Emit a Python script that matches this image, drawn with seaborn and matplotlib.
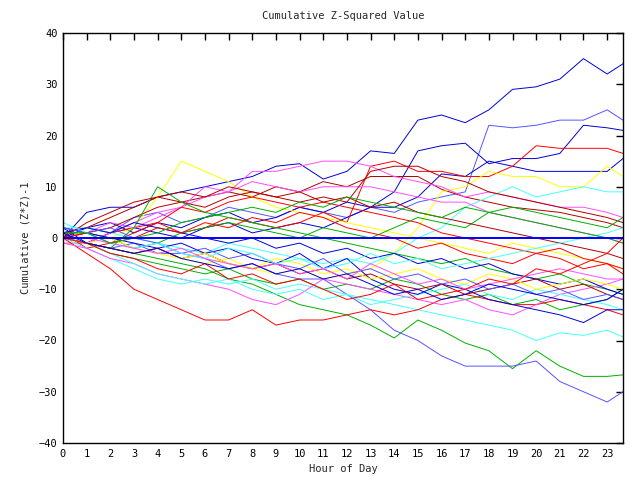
import matplotlib
matplotlib.use("Agg")
import matplotlib.pyplot as plt
import seaborn as sns
import pandas as pd

hours = [0, 1, 2, 3, 4, 5, 6, 7, 8, 9, 10, 11, 12, 13, 14, 15, 16, 17, 18, 19, 20, 21, 22, 23, 23.67]

series_names = [f"s{i:02d}" for i in range(1, 36)]

s01 = [0, 5, 6, 6, 8, 9, 10, 11, 12, 14, 14.5, 11.5, 13, 17, 16.5, 23, 24, 22.5, 25, 29, 29.5, 31, 35, 32, 34]
s02 = [1, 2, 1, 4, 5, 3, 4, 6, 5, 4, 6, 5, 4, 6, 5, 7, 8, 9, 22, 21.5, 22, 23, 23, 25, 23]
s03 = [0, 2, 3, 1, 3, 2, 4, 5, 3, 4, 6, 5, 7, 6, 9, 17, 18, 18.5, 14.5, 15.5, 15.5, 16.5, 22, 21.5, 21]
s04 = [2, -1, 1, 2, 1, 0, 2, 3, 1, 2, 3, 2, 4, 6, 6, 8, 12.5, 12, 15, 14, 13, 13, 13, 13, 15.5]
s05 = [0, -1, 1, 2, 3, 1, 2, 4, 3, 2, 3, 5, 3, 14, 15, 13, 13, 12, 12, 14, 18, 17.5, 17.5, 17.5, 16.5]
s06 = [1, 2, 4, 6, 8, 7, 8, 9, 8, 10, 9, 11, 10, 12, 12, 12, 9.5, 8, 7, 6, 5.5, 5, 4, 3, 2]
s07 = [0, 1, 0, 2, 8, 15, 13, 11, 8, 6, 5, 4, 3, 2, 1, 0, -1, -2, -3, -1, -2, -3, -4, -5, -6]
s08 = [-1, -1, -2, -3, -2, -4, -5, -4, -6, -7, -6, -8, -7, -6, -3, 2, 9, 10, 13, 12, 12, 10, 10, 14, 12]
s09 = [2, 2, 1, 0, -1, -2, -3, -1, -2, -3, -4, -5, -4, -5, -3, 0, 2, 6, 8, 10, 8, 9, 10, 9, 9]
s10 = [0, 1, 3, 2, 4, 6, 10, 9, 13, 13, 14, 15, 15, 14, 12, 11, 10, 8, 9, 8, 7, 6, 6, 5, 4]
s11 = [-1, -1, 1, 3, 5, 6, 8, 9, 11, 10, 9, 10, 10, 10, 9, 8, 7, 7, 5, 4, 3, 2, 1, 0, -1]
s12 = [0, 1, 2, 4, 6, 7, 6, 8, 9, 8, 7, 8, 7, 13, 14, 14, 12, 11, 9, 8, 7, 6, 5, 4, 3]
s13 = [1, -2, -1, 1, 3, 6, 5, 7, 8, 7, 6, 7, 6, 5, 4, 3, 1, 0, -1, -2, -3, -2, -4, -5, -6]
s14 = [0, -1, -2, 2, 10, 7, 5, 4, 3, 2, 1, 0, -1, -2, -3, -4, -5, -4, -6, -7, -8, -7, -9, -10, -11]
s15 = [1, 1, 0, -2, -1, 1, 2, 3, 2, 1, 0, 2, 1, 0, 2, 4, 3, 2, 5, 6, 5, 4, 3, 2, 4]
s16 = [0, -1, -3, -4, -5, -6, -7, -6, -8, -9, -8, -10, -9, -10, -8, -9, -11, -12, -11, -13, -12, -14, -13, -12, -10]
s17 = [0, -1, -2, -3, -4, -5, -6, -8, -9, -11, -13, -14, -15, -17, -19.5, -16, -18, -20.5, -22, -25.5, -22, -25, -27, -27, -26.7]
s18 = [0, -1, -2, -1, -3, -3, -4, -6, -5, -7, -8, -8, -11, -14, -18, -20, -23, -25, -25, -25, -24, -28, -30, -32, -30]
s19 = [0, -2, -4, -6, -8, -9, -8, -9, -8, -10, -9, -10, -11, -12, -13, -14, -15, -16, -17, -18, -20, -18.5, -19, -18, -19.3]
s20 = [0, -3, -6, -10, -12, -14, -16, -16, -14, -17, -16, -16, -15, -14, -15, -14, -12, -11, -12, -13, -13, -12, -13, -14, -15]
s21 = [-1, -2, -4, -5, -7, -8, -9, -10, -12, -13, -11, -8, -9, -10, -11, -12, -13, -12, -14, -15, -13, -11, -10, -9, -8]
s22 = [0, -1, -3, -5, -7, -8, -9, -8, -10, -11, -10, -12, -11, -13, -12, -11, -10, -9, -11, -12, -10, -11, -12, -13, -14]
s23 = [2, 1, 0, -1, -2, -1, -3, -2, -4, -5, -3, -6, -4, -8, -10, -11, -9, -10, -12, -13, -14, -15, -16.5, -14, -14]
s24 = [1, 2, 1, 3, 2, 1, 0, -1, 0, -2, -1, -3, -2, -4, -3, -5, -4, -6, -5, -7, -8, -9, -8, -10, -11]
s25 = [0, -1, -2, -3, -2, -4, -3, -5, -6, -5, -7, -6, -8, -7, -9, -10, -9, -11, -10, -9, -8, -10, -9, -11, -12]
s26 = [0, 1, -1, 0, 2, 1, 3, 2, 4, 3, 5, 4, 2, 1, 0, -2, -1, -3, -4, -5, -3, -4, -6, -5, -7]
s27 = [0, -1, 0, -2, -3, -4, -3, -5, -6, -4, -5, -7, -6, -8, -7, -6, -8, -9, -7, -8, -10, -9, -8, -9, -10]
s28 = [0, 3, 5, 7, 8, 9, 8, 10, 9, 8, 9, 7, 8, 6, 7, 5, 4, 3, 2, 1, 0, -1, -2, -3, -4]
s29 = [2, 1, 2, 0, -1, -3, -2, -4, -3, -5, -6, -4, -7, -6, -8, -7, -9, -8, -10, -9, -11, -10, -12, -11, -12]
s30 = [3, 1, -1, -2, -1, -3, -4, -2, -3, -5, -4, -6, -5, -3, -5, -4, -6, -5, -4, -3, -2, -1, 0, 1, 2]
s31 = [0, 0, -1, -2, -3, -2, -4, -5, -6, -5, -7, -6, -8, -5, -7, -9, -8, -10, -9, -8, -7, -6, -7, -8, -8]
s32 = [1, 1, -1, 0, 1, 3, 4, 5, 6, 5, 7, 6, 8, 7, 6, 5, 4, 6, 5, 4, 3, 2, 1, 0, -1]
s33 = [0, -1, -3, -4, -6, -7, -5, -8, -7, -9, -8, -10, -12, -11, -9, -12, -11, -10, -8, -9, -6, -7, -5, -3, 0]
s34 = [1, -1, -2, -3, -2, -4, -5, -6, -5, -7, -6, -8, -7, -9, -11, -10, -12, -11, -9, -10, -11, -12, -13, -12, -10]
s35 = [0] * 25

all_series = [s01, s02, s03, s04, s05, s06, s07, s08, s09, s10, s11, s12, s13, s14, s15, s16, s17,
              s18, s19, s20, s21, s22, s23, s24, s25, s26, s27, s28, s29, s30, s31, s32, s33, s34, s35]

BLUE = "#0000d8"
LBLUE = "#5555ff"
RED = "#ff0000"
DRED = "#b40000"
YEL = "#ffff00"
CYAN = "#44ffff"
MAG = "#ff4cff"
GRN = "#00b000"
series_colors = [BLUE, LBLUE, BLUE, BLUE, RED, DRED, YEL, YEL, CYAN, MAG, MAG, DRED, RED, GRN, GRN, GRN,
                 GRN, LBLUE, CYAN, RED, MAG, CYAN, BLUE, BLUE, DRED, RED, YEL, DRED, LBLUE, CYAN, MAG,
                 GRN, RED, BLUE, "#0000ff"]

rows = []
for name, vals in zip(series_names, all_series):
    for h, v in zip(hours, vals):
        rows.append({"hour": h, "value": v, "series": name})
df = pd.DataFrame(rows)

sns.set_style("white")
plt.rcParams["font.family"] = ["DejaVu Sans Mono"]

fig = plt.figure(figsize=(6.4, 4.8), dpi=100)
ax = fig.add_axes([63 / 640, 1 - 443 / 480, 560 / 640, 410 / 480])

palette = dict(zip(series_names, series_colors))
sns.lineplot(data=df[df.series != "s35"], x="hour", y="value", hue="series", palette=palette,
             estimator=None, legend=False, linewidth=0.7, ax=ax)
sns.lineplot(data=df[df.series == "s35"], x="hour", y="value", color="#0000ff",
             estimator=None, legend=False, linewidth=1.4, ax=ax)

ax.set_xlim(0, 23.67)
ax.set_ylim(-40, 40)
ax.set_xticks(range(0, 24))
ax.set_yticks(range(-40, 41, 10))
ax.tick_params(direction="in", length=5, width=1, top=True, right=True, labelsize=7.5,
               colors="black", pad=4)
for sp in ax.spines.values():
    sp.set_color("black")
    sp.set_linewidth(1)

ax.set_title("Cumulative Z-Squared Value", fontsize=7.5, pad=10)
ax.set_xlabel("Hour of Day", fontsize=7.5, labelpad=4)
ax.set_ylabel("Cumulative (Z*Z)-1", fontsize=7.5, labelpad=6)

fig.savefig("out.png", dpi=100)
